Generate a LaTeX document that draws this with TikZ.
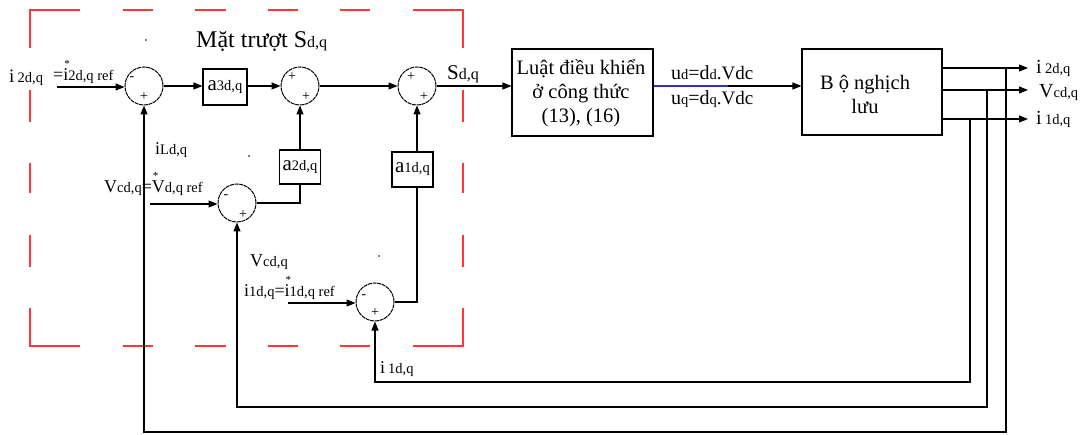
\documentclass[tikz,border=0pt]{standalone}
\usepackage{fontspec}
\setmainfont{Liberation Serif}
\usetikzlibrary{arrows.meta,calc}
\definecolor{fred}{RGB}{255,55,60}
\definecolor{ublue}{RGB}{50,50,170}
\newcommand\Sm[1]{{\fontsize{14.5}{16}\selectfont #1}}
\newcommand\Lb{\fontsize{18}{20}\selectfont}
\newcommand\Star[1]{\makebox[0pt][l]{\raisebox{13pt}{\fontsize{11}{11}\selectfont\kern1pt*}}#1}
\begin{document}
\begin{tikzpicture}[x=1pt,y=-1pt,
  line/.style={line width=1.1pt, black},
  arr/.style={line, -{Triangle[length=9pt,width=7pt]}},
  sumc/.style={circle, draw, line width=1pt, dash pattern=on 4pt off 0.7pt, minimum size=38pt, inner sep=0pt},
  gain/.style={rectangle, draw, line width=1.1pt, inner sep=0pt, font=\fontsize{21}{24}\selectfont},
  bigbox/.style={rectangle, draw, line width=1.1pt, inner sep=0pt},
  boxtext/.style={inner sep=0pt, align=center, font=\fontsize{20.5}{24}\selectfont},
  lab/.style={anchor=base west, inner sep=0pt, font=\Lb},
  sgn/.style={inner sep=0pt, font=\fontsize{14}{14}\selectfont},
  frame/.style={fred, line width=1.3pt}
]
\useasboundingbox (0,0) rectangle (1086,435);

% red dashed frame
\draw[frame] (30,48) -- (30,10) -- (80,10);
\draw[frame] (413,10) -- (463,10) -- (463,48);
\draw[frame] (30,308) -- (30,346) -- (80,346);
\draw[frame] (413,346) -- (463,346) -- (463,308);
\foreach \a/\b in {123/153,195/226,268/298,340/370}{
  \draw[frame] (\a,10) -- (\b,10);
  \draw[frame] (\a,346) -- (\b,346);
}
\foreach \a/\b in {90/122,163/193,235/267}{
  \draw[frame] (30,\a) -- (30,\b);
  \draw[frame] (463,\a) -- (463,\b);
}

% summing junctions
\node[sumc] (s1) at (144,86) {};
\node[sumc] (s2) at (300,86) {};
\node[sumc] (s3) at (417,86) {};
\node[sumc] (s4) at (237,203) {};
\node[sumc] (s5) at (375,302) {};

% signs
\node[sgn] (g1a) at ([shift={(-12,-7)}]s1.center) {-};
\node[sgn] (g1b) at ([shift={(0,11)}]s1.center) {+};
\node[sgn] (g2a) at ([shift={(-8,-9)}]s2.center) {+};
\node[sgn] (g2b) at ([shift={(6,11)}]s2.center) {+};
\node[sgn] (g3a) at ([shift={(-6,-9)}]s3.center) {+};
\node[sgn] (g3b) at ([shift={(7,11)}]s3.center) {+};
\node[sgn] (g4a) at ([shift={(-11,-6)}]s4.center) {-};
\node[sgn] (g4b) at ([shift={(6,12)}]s4.center) {+};
\node[sgn] (g5a) at ([shift={(-11,-5)}]s5.center) {-};
\node[sgn] (g5b) at ([shift={(0,11)}]s5.center) {+};

% gain blocks
\node[gain, minimum width=44pt, minimum height=36pt] (a3) at (225,87) {a\Sm{3d,q}};
\node[gain, minimum width=41pt, minimum height=34pt] (a2) at (300,167) {a\Sm{2d,q}};
\node[gain, minimum width=41pt, minimum height=35pt] (a1) at (412.5,169.5) {a\Sm{1d,q}};

% main blocks
\node[bigbox, minimum width=141pt, minimum height=87pt] (law) at (582.5,92.5) {};
\node[boxtext] (lawt) at (581,93) {Luật điều khiển\\ở công thức\\(13), (16)};
\node[bigbox, minimum width=140pt, minimum height=86pt] (inv) at (872,92) {};
\node[boxtext] (invt) at (865,94) {B ộ nghịch\\lưu};

% forward path
\draw[arr] (s1.east) -- (a3.west |- s1.east);
\draw[arr] (a3.east |- s2.west) -- (s2.west);
\draw[arr] (s2.east) -- (s3.west);
\draw[arr] (s3.east) -- (law.west |- s3.east);
\coordinate (m) at (728,86);
\draw[ublue, line width=1.1pt] (law.east |- m) -- (m);
\draw[arr] (m) -- (inv.west |- m);

% inner loops
\draw[line] (s4.east) -| (a2.south);
\draw[arr] (a2.north) -- (s2.south);
\draw[line] (s5.east) -| (s3 |- a1.south);
\draw[arr] (s3 |- a1.north) -- (s3.south);

% reference inputs
\coordinate (r1) at (57,87);
\coordinate (r4) at (150,204);
\coordinate (r5) at (288,303);
\draw[arr] (r1) -- (s1.west |- r1);
\draw[arr] (r4) -- (s4.west |- r4);
\draw[arr] (r5) -- (s5.west |- r5);

% outputs
\coordinate (e1) at (1028,68);
\coordinate (e2) at (1028,90);
\coordinate (e3) at (1028,119);
\draw[arr] (inv.east |- e1) -- (e1);
\draw[arr] (inv.east |- e2) -- (e2);
\draw[arr] (inv.east |- e3) -- (e3);

% feedback loops
\coordinate (t1) at (1006,68);
\coordinate (b1) at (1006,432);
\coordinate (t2) at (987,90);
\coordinate (b2) at (987,407);
\coordinate (t3) at (970,119);
\coordinate (b3) at (970,382);
\draw[arr] (t1) -- (b1) -| (s1.south);
\draw[arr] (t2) -- (b2) -| (s4.south);
\draw[arr] (t3) -- (b3) -| (s5.south);

% labels
\node[lab, font=\fontsize{24}{26}\selectfont] (title) at (196,48) {Mặt trượt S{\fontsize{16}{18}\selectfont d,q}};
\node[lab, font=\fontsize{21}{22}\selectfont] (sl) at (447,80) {S{\fontsize{16}{18}\selectfont d,q}};
\node[lab, font=\fontsize{19}{20}\selectfont] (l1) at (9,83) {i\,\Sm{2d,q}};
\node[lab] (l2) at (53,81) {=\Star{i}\Sm{2d,q ref}};
\node[lab] (l3) at (155,155) {i\Sm{Ld,q}};
\node[lab] (l4) at (104,193) {V\Sm{cd,q}=\Star{V}\Sm{d,q ref}};
\node[lab] (l5) at (250,267) {V\Sm{cd,q}};
\node[lab] (l6) at (244,297) {i\Sm{1d,q}=\Star{i}\Sm{1d,q ref}};
\node[lab] (l7) at (380,373) {i\,\Sm{1d,q}};
\node[lab, font=\fontsize{20}{22}\selectfont] (u1) at (671,80) {u\Sm{d}=d\Sm{d}{\fontsize{19}{20}\selectfont.Vdc}};
\node[lab, font=\fontsize{20}{22}\selectfont] (u2) at (671,105) {u\Sm{q}=d\Sm{q}{\fontsize{19}{20}\selectfont.Vdc}};
\node[lab, font=\fontsize{20}{20}\selectfont] (o1) at (1036,74) {i\,\Sm{2d,q}};
\node[lab, font=\fontsize{20}{20}\selectfont] (o2) at (1039,98) {V\Sm{cd,q}};
\node[lab, font=\fontsize{20}{20}\selectfont] (o3) at (1036,125) {i\,\Sm{1d,q}};

% stray dots
\fill (146,40) circle (0.8pt);
\fill (249,156) circle (0.8pt);
\fill (379,256) circle (0.8pt);
\end{tikzpicture}
\end{document}
